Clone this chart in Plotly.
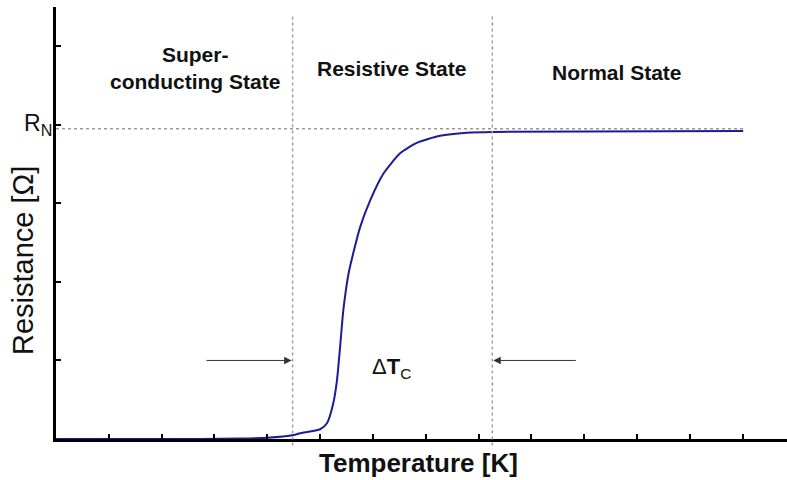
import plotly.graph_objects as go

# Resistance vs temperature across the superconducting transition
temperature = [0.0, 2.73, 3.5, 4.0, 4.5, 4.62, 5.0, 5.13, 5.25, 5.32, 5.38, 5.44,
               5.54, 5.63, 5.76, 5.95, 6.2, 6.52, 6.83, 7.27, 7.78, 8.28, 13.01]
resistance = [0.0, 0.0, 0.005, 0.015, 0.05, 0.073, 0.124, 0.2, 0.455, 0.75, 1.18, 1.64,
              2.11, 2.37, 2.7, 3.04, 3.38, 3.64, 3.77, 3.86, 3.9, 3.91, 3.92]

r_normal = 3.95            # normal-state resistance level R_N
tc_start, tc_end = 4.48, 8.26   # edges of the transition width
x_ticks = list(range(1, 14))
y_ticks = [1, 2, 3, 4, 5]

region_labels = ["Super-<br>conducting State", "Resistive State", "Normal State"]
region_x = [2.63, 6.36, 10.63]
region_y = [4.72, 4.72, 4.66]

FONT = "Liberation Sans, Arial, sans-serif"
TXT = "#111111"

fig = go.Figure()
fig.add_trace(go.Scatter(
    x=temperature, y=resistance, mode="lines",
    line=dict(color="#1c1c96", width=2, shape="spline", smoothing=0.6),
    hoverinfo="skip", showlegend=False,
))

# Dotted guide lines
fig.add_shape(type="line", xref="x", yref="y", x0=0, x1=13.01, y0=r_normal, y1=r_normal,
              line=dict(color="#999999", width=1.5, dash="dot"))
for xv in (tc_start, tc_end):
    fig.add_shape(type="line", xref="x", yref="paper", x0=xv, x1=xv, y0=-0.015, y1=0.982,
                  line=dict(color="#a0a0a0", width=1.5, dash="dot"))

annotations = []
for txt, xv, yv in zip(region_labels, region_x, region_y):
    annotations.append(dict(x=xv, y=yv, xref="x", yref="y", text="<b>" + txt + "</b>",
                            showarrow=False, font=dict(family=FONT, size=21, color=TXT),
                            align="center"))

# Arrows marking the transition width
annotations.append(dict(x=tc_start, y=1.0, ax=2.82, ay=1.0, xref="x", yref="y",
                        axref="x", ayref="y", text="", showarrow=True, arrowhead=2,
                        arrowsize=1.5, arrowwidth=1, arrowcolor="#333333", standoff=1))
annotations.append(dict(x=tc_end, y=1.0, ax=9.87, ay=1.0, xref="x", yref="y",
                        axref="x", ayref="y", text="", showarrow=True, arrowhead=2,
                        arrowsize=1.5, arrowwidth=1, arrowcolor="#333333", standoff=1))
annotations.append(dict(x=6.35, y=0.9, xref="x", yref="y",
                        text="Δ<b>T</b><sub>C</sub>", showarrow=False,
                        font=dict(family=FONT, size=22, color=TXT)))
annotations.append(dict(x=-0.003, y=4.0 / 5.5, xref="paper", yref="paper", xanchor="right",
                        yanchor="middle",
                        text="R<sub>N</sub>", showarrow=False,
                        font=dict(family=FONT, size=23, color=TXT)))
annotations.append(dict(x=0.5, y=-0.055, xref="paper", yref="paper", yanchor="middle",
                        xshift=-3, text="<b>Temperature [K]</b>", showarrow=False,
                        font=dict(family=FONT, size=26, color=TXT)))
annotations.append(dict(x=-0.046, y=0.413, xref="paper", yref="paper",
                        xanchor="center", yanchor="middle",
                        text="Resistance [Ω]", textangle=-90, showarrow=False,
                        font=dict(family=FONT, size=29, color=TXT)))

fig.update_layout(
    width=787, height=480,
    margin=dict(l=56, r=0, t=7, b=41),
    paper_bgcolor="white", plot_bgcolor="white",
    annotations=annotations,
    xaxis=dict(range=[0, 13.84], tickvals=x_ticks, showticklabels=False,
               ticks="inside", ticklen=5, tickwidth=2, tickcolor="black",
               showline=True, linecolor="black", linewidth=3,
               showgrid=False, zeroline=False, fixedrange=True),
    yaxis=dict(range=[0, 5.5], tickvals=y_ticks, showticklabels=False,
               ticks="inside", ticklen=5, tickwidth=2, tickcolor="black",
               showline=True, linecolor="black", linewidth=3,
               showgrid=False, zeroline=False, fixedrange=True),
)

fig.write_html("out.html")
